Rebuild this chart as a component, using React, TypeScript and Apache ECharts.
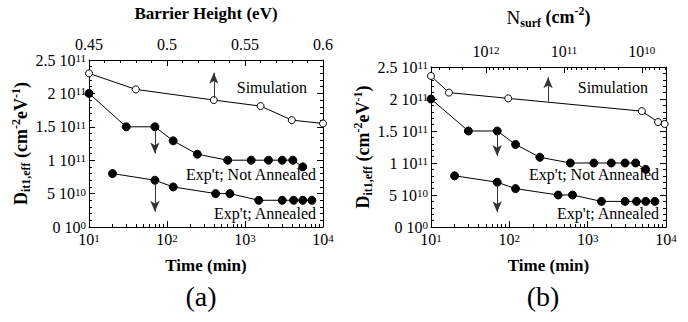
import React, { useEffect, useRef } from "react";
import * as echarts from "echarts";

// Panel data
const timeNotAnnealed = [10, 30, 70, 120, 245, 600, 1200, 2000, 3000, 4100, 5500];
const dNotAnnealed = [2.0e11, 1.5e11, 1.5e11, 1.29e11, 1.09e11, 1.0e11, 1.0e11, 1.0e11, 1.0e11, 1.0e11, 0.9e11];
const timeAnnealed = [20, 70, 120, 420, 640, 1500, 3000, 4200, 5500, 7200];
const dAnnealed = [0.8e11, 0.7e11, 0.6e11, 0.5e11, 0.5e11, 0.4e11, 0.4e11, 0.4e11, 0.4e11, 0.4e11];
const barrierSim = [0.45, 0.48, 0.53, 0.56, 0.58, 0.6];
const dSimA = [2.3e11, 2.06e11, 1.9e11, 1.81e11, 1.6e11, 1.55e11];
const nSurfSim = [5.1e12, 3.0e12, 5.2e11, 1.0e10, 6.2e9, 5.1e9];
const dSimB = [2.36e11, 2.1e11, 2.01e11, 1.81e11, 1.64e11, 1.61e11];

const timeRange = [10, 10000];
const nSurfRange = [4.9e9, 5.1e12];
const nSurfMajor = [1e10, 1e11, 1e12];
const barrierTicks = [0.45, 0.5, 0.55, 0.6];
const barrierMinor = [0.46, 0.47, 0.48, 0.49, 0.51, 0.52, 0.53, 0.54, 0.56, 0.57, 0.58, 0.59];

const FONT = "'Liberation Serif', 'DejaVu Serif', serif";

const lg = (v: number) => Math.log10(v);

function minorLogTicks(lo: number, hi: number): number[] {
  const out: number[] = [];
  for (let n = Math.floor(lg(lo)); n <= Math.ceil(lg(hi)); n++) {
    for (let k = 2; k <= 9; k++) {
      const v = k * Math.pow(10, n);
      if (v > lo && v < hi) out.push(lg(v));
    }
  }
  return out;
}

const supRich = {
  b: { fontSize: 16, fontFamily: FONT, color: "#000", lineHeight: 15 },
  s: { fontSize: 11, fontFamily: FONT, color: "#000", verticalAlign: "top", lineHeight: 15 },
};

function yLabel(v: number) {
  if (v === 0) return "{b|0 10}{s|0}";
  const e = Math.floor(Math.log10(v) + 1e-9);
  const m = +(v / Math.pow(10, e)).toFixed(2);
  return `{b|${m} 10}{s|${e}}`;
}

export default function App() {
  const ref = useRef<HTMLDivElement>(null);
  useEffect(() => {
    if (!ref.current) return;
    const chart = echarts.init(ref.current, null, { renderer: "svg" });
    const grids = [
      { left: 89, top: 52, width: 234, height: 175 },
      { left: 431, top: 52, width: 235, height: 175 },
    ];
    const axisLine = { show: true, lineStyle: { color: "#000", width: 1 } };
    const timeMinor = minorLogTicks(timeRange[0], timeRange[1]);
    const nMinor = minorLogTicks(nSurfRange[0], nSurfRange[1]);

    const timeAxis = (gi: number) => ({
      type: "value",
      gridIndex: gi,
      position: "bottom",
      min: lg(timeRange[0]),
      max: lg(timeRange[1]),
      interval: 1,
      axisLine,
      axisTick: { show: true, inside: true, length: 6, lineStyle: { color: "#000" } },
      axisLabel: {
        margin: 5,
        formatter: (v: number) => `{b|10}{s|${Math.round(v)}}`,
        rich: supRich,
      },
      splitLine: { show: false },
      name: "Time (min)",
      nameLocation: "middle",
      nameGap: 30,
      nameTextStyle: { fontFamily: FONT, fontSize: 17, fontWeight: "bold", color: "#000" },
    });
    const minorAxis = (gi: number, pos: string, lo: number, hi: number, vals: number[], inverse = false) => ({
      type: "value",
      gridIndex: gi,
      position: pos,
      min: lo,
      max: hi,
      inverse,
      axisLine: { show: false },
      axisTick: { show: true, inside: true, length: 3, customValues: vals, lineStyle: { color: "#000" } },
      axisLabel: { show: false },
      splitLine: { show: false },
    });
    const yAxis = (gi: number, pos: string, labels: boolean) => ({
      type: "value",
      gridIndex: gi,
      position: pos,
      min: 0,
      max: 2.5e11,
      interval: 0.5e11,
      axisLine,
      axisTick: { show: true, inside: true, length: 6, lineStyle: { color: "#000" } },
      minorTick: { show: true, splitNumber: 5, length: 3, lineStyle: { color: "#000" } },
      axisLabel: labels
        ? { show: true, margin: 3, formatter: yLabel, rich: supRich }
        : { show: false },
      splitLine: { show: false },
      ...(labels
        ? {
            name: "{b|D}{sub|it1,eff}{b| (cm}{sup|-2}{b|eV}{sup|-1}{b|)}",
            nameLocation: "middle",
            nameGap: 57,
            nameRotate: 90,
            nameTextStyle: {
              rich: {
                b: { fontFamily: FONT, fontSize: 18, fontWeight: "bold", color: "#000", lineHeight: 22 },
                sub: { fontFamily: FONT, fontSize: 12, fontWeight: "bold", color: "#000", verticalAlign: "bottom", lineHeight: 22 },
                sup: { fontFamily: FONT, fontSize: 12, fontWeight: "bold", color: "#000", verticalAlign: "top", lineHeight: 22 },
              },
            },
          }
        : {}),
    });

    const lineStyle = { color: "#000", width: 1 };
    const openSym = { color: "#fff", borderColor: "#000", borderWidth: 1 };
    const fillSym = { color: "#000", borderColor: "#000" };
    const arrow = (from: number[], to: number[]) => ({
      silent: true,
      symbol: ["none", "arrow"],
      symbolSize: [7, 11],
      lineStyle: { color: "#333", width: 1, type: "solid" },
      label: { show: false },
      emphasis: { disabled: true },
      data: [[{ coord: from }, { coord: to }]],
    });

    const option = {
      animation: false,
      backgroundColor: "#fff",
      textStyle: { fontFamily: FONT },
      grid: grids,
      xAxis: [
        // 0
        timeAxis(0),
        // 1
        minorAxis(0, "bottom", lg(timeRange[0]), lg(timeRange[1]), timeMinor),
        // 2
        {
          type: "value",
          gridIndex: 0,
          position: "top",
          min: 0.45,
          max: 0.6,
          axisLine,
          axisTick: { show: true, inside: true, length: 6, customValues: barrierTicks, lineStyle: { color: "#000" } },
          axisLabel: {
            margin: 8,
            customValues: barrierTicks,
            formatter: (v: number) => `${+v.toFixed(2)}`,
            fontFamily: FONT,
            fontSize: 16,
            lineHeight: 15,
            color: "#000",
          },
          splitLine: { show: false },
          name: "Barrier Height (eV)",
          nameLocation: "middle",
          nameGap: 38,
          nameTextStyle: { fontFamily: FONT, fontSize: 17, fontWeight: "bold", color: "#000" },
        },
        // 3
        minorAxis(0, "top", 0.45, 0.6, barrierMinor),
        // 4
        timeAxis(1),
        // 5
        minorAxis(1, "bottom", lg(timeRange[0]), lg(timeRange[1]), timeMinor),
        // 6
        {
          type: "value",
          gridIndex: 1,
          position: "top",
          min: lg(nSurfRange[0]),
          max: lg(nSurfRange[1]),
          inverse: true,
          axisLine,
          axisTick: { show: true, inside: true, length: 6, customValues: nSurfMajor.map(lg), lineStyle: { color: "#000" } },
          axisLabel: {
            margin: 8,
            customValues: nSurfMajor.map(lg),
            formatter: (v: number) => `{b|10}{s|${Math.round(v)}}`,
            rich: supRich,
          },
          splitLine: { show: false },
          name: "{n|N}{sub|surf}{b| (cm}{sup|-2}{b|)}",
          nameLocation: "middle",
          nameGap: 38,
          nameTextStyle: {
            rich: {
              n: { fontFamily: FONT, fontSize: 19, color: "#000", lineHeight: 24 },
              b: { fontFamily: FONT, fontSize: 18, fontWeight: "bold", color: "#000", lineHeight: 24 },
              sub: { fontFamily: FONT, fontSize: 12, fontWeight: "bold", color: "#000", verticalAlign: "bottom", lineHeight: 24 },
              sup: { fontFamily: FONT, fontSize: 12, fontWeight: "bold", color: "#000", verticalAlign: "top", lineHeight: 24 },
            },
          },
        },
        // 7
        minorAxis(1, "top", lg(nSurfRange[0]), lg(nSurfRange[1]), nMinor, true),
      ],
      yAxis: [yAxis(0, "left", true), yAxis(0, "right", false), yAxis(1, "left", true), yAxis(1, "right", false)],
      series: [
        {
          type: "line",
          xAxisIndex: 2,
          yAxisIndex: 0,
          data: barrierSim.map((x, i) => [x, dSimA[i]]),
          symbol: "circle",
          symbolSize: 7,
          lineStyle,
          itemStyle: openSym,
          markLine: arrow([0.53, 1.93e11], [0.53, 2.31e11]),
        },
        {
          type: "line",
          xAxisIndex: 0,
          yAxisIndex: 0,
          data: timeNotAnnealed.map((t, i) => [lg(t), dNotAnnealed[i]]),
          symbol: "circle",
          symbolSize: 8,
          lineStyle,
          itemStyle: fillSym,
          markLine: arrow([lg(70), 1.46e11], [lg(70), 1.1e11]),
        },
        {
          type: "line",
          xAxisIndex: 0,
          yAxisIndex: 0,
          data: timeAnnealed.map((t, i) => [lg(t), dAnnealed[i]]),
          symbol: "circle",
          symbolSize: 8,
          lineStyle,
          itemStyle: fillSym,
          markLine: arrow([lg(70), 0.66e11], [lg(70), 0.23e11]),
        },
        {
          type: "line",
          xAxisIndex: 6,
          yAxisIndex: 2,
          data: nSurfSim.map((n, i) => [lg(n), dSimB[i]]),
          symbol: "circle",
          symbolSize: 7,
          lineStyle,
          itemStyle: openSym,
          markLine: arrow([lg(1.6e11), 1.96e11], [lg(1.6e11), 2.34e11]),
        },
        {
          type: "line",
          xAxisIndex: 4,
          yAxisIndex: 2,
          data: timeNotAnnealed.map((t, i) => [lg(t), dNotAnnealed[i]]),
          symbol: "circle",
          symbolSize: 8,
          lineStyle,
          itemStyle: fillSym,
          markLine: arrow([lg(70), 1.46e11], [lg(70), 1.11e11]),
        },
        {
          type: "line",
          xAxisIndex: 4,
          yAxisIndex: 2,
          data: timeAnnealed.map((t, i) => [lg(t), dAnnealed[i]]),
          symbol: "circle",
          symbolSize: 8,
          lineStyle,
          itemStyle: fillSym,
          markLine: arrow([lg(70), 0.66e11], [lg(70), 0.23e11]),
        },
      ],
      graphic: [
        ...[
          { t: "Simulation", x: 307, y: 87 },
          { t: "Exp't; Not Annealed", x: 316, y: 174 },
          { t: "Exp't; Annealed", x: 316, y: 213 },
          { t: "Simulation", x: 648, y: 87 },
          { t: "Exp't; Not Annealed", x: 659, y: 174 },
          { t: "Exp't; Annealed", x: 659, y: 213 },
        ].map((d) => ({
          type: "text",
          x: d.x,
          y: d.y,
          silent: true,
          style: { text: d.t, fontFamily: FONT, fontSize: 16, fill: "#000", align: "right", verticalAlign: "middle" },
        })),
        ...[
          { t: "(a)", x: 201 },
          { t: "(b)", x: 543 },
        ].map((d) => ({
          type: "text",
          x: d.x,
          y: 296,
          silent: true,
          style: { text: d.t, fontFamily: FONT, fontSize: 28, fill: "#000", align: "center", verticalAlign: "middle" },
        })),
      ],
    };
    chart.setOption(option as any);
    return () => chart.dispose();
  }, []);
  return <div ref={ref} style={{ position: "fixed", left: 0, top: 0, width: 688, height: 322 }} />;
}
